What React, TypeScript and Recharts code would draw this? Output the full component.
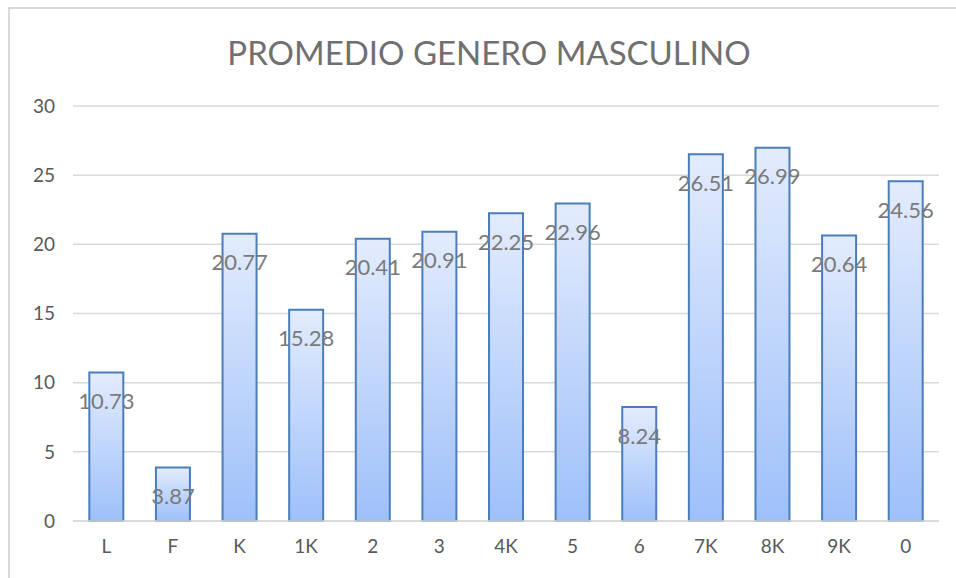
import { BarChart, Bar, XAxis, YAxis, CartesianGrid, LabelList } from 'recharts';

const categories = ['L', 'F', 'K', '1K', '2', '3', '4K', '5', '6', '7K', '8K', '9K', '0'];
const promedios = [10.73, 3.87, 20.77, 15.28, 20.41, 20.91, 22.25, 22.96, 8.24, 26.51, 26.99, 20.64, 24.56];
const yTicks = [0, 5, 10, 15, 20, 25, 30];

const data = categories.map((c, i) => ({ name: c, value: promedios[i] }));

const FONT = 'Lato, "Open Sans", sans-serif';

const ValueLabel = (props: any) => {
  const { x, y, width, value } = props;
  return (
    <text
      x={x + width / 2}
      y={y + 28}
      textAnchor="middle"
      dominantBaseline="central"
      fill="#7a7a7a"
      fontSize={22}
      fontFamily={FONT}
    >
      {value}
    </text>
  );
};

export default function App() {
  return (
    <div style={{ position: 'absolute', left: 0, top: 0, width: 956, height: 578, background: '#fff', fontFamily: FONT }}>
      <div
        style={{
          position: 'absolute',
          left: 8,
          top: 7,
          width: 948,
          height: 571,
          borderTop: '2px solid #d9d9d9',
          borderLeft: '2px solid #d9d9d9',
          boxSizing: 'border-box',
        }}
      />
      <div
        style={{
          position: 'absolute',
          left: 0,
          top: 29,
          width: 978,
          textAlign: 'center',
          fontSize: 33,
          color: '#707070',
          lineHeight: '46px',
        }}
      >
        PROMEDIO GENERO MASCULINO
      </div>
      <div style={{ position: 'absolute', left: 0, top: 0 }}>
        <BarChart width={956} height={578} data={data} margin={{ top: 106, right: 17, bottom: 0, left: 0 }} barCategoryGap="24.5%">
          <defs>
            <linearGradient id="barFill" x1="0" y1="0" x2="0" y2="1">
              <stop offset="0%" stopColor="#e3ecfd" />
              <stop offset="100%" stopColor="#9ec0fa" />
            </linearGradient>
          </defs>
          <CartesianGrid vertical={false} stroke="#d9d9d9" strokeWidth={1.5} />
          <XAxis
            dataKey="name"
            height={57}
            axisLine={{ stroke: '#d9d9d9', strokeWidth: 1.5 }}
            tickLine={false}
            tickSize={0}
            tickMargin={19}
            tick={{ fill: '#595959', fontSize: 19, fontFamily: FONT }}
          />
          <YAxis
            width={73}
            domain={[0, 30]}
            ticks={yTicks}
            axisLine={false}
            tickLine={false}
            tickSize={0}
            tickMargin={18}
            tick={{ fill: '#595959', fontSize: 19, fontFamily: FONT }}
          />
          <Bar dataKey="value" fill="url(#barFill)" stroke="#4a7ebb" strokeWidth={2} isAnimationActive={false}>
            <LabelList dataKey="value" content={<ValueLabel />} />
          </Bar>
        </BarChart>
      </div>
    </div>
  );
}
